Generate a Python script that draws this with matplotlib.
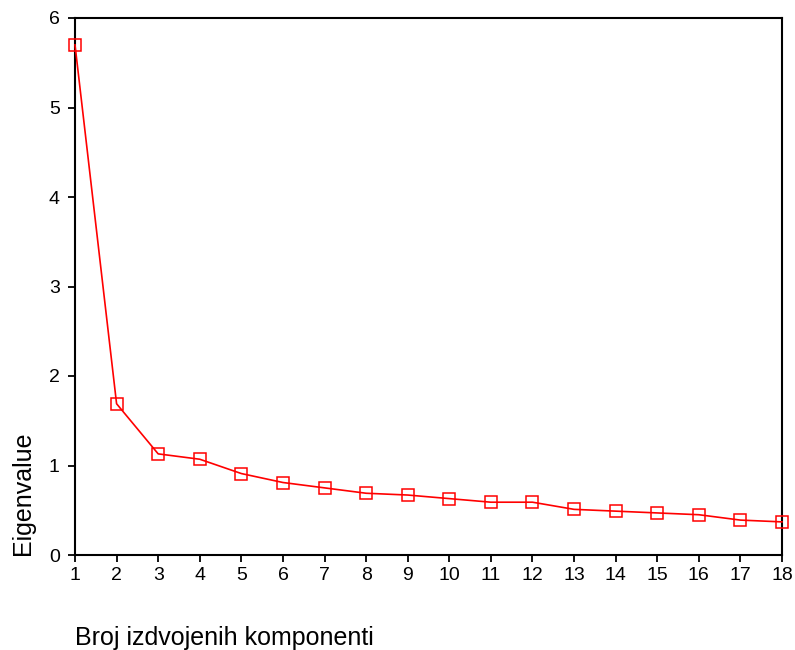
import matplotlib.pyplot as plt
import numpy as np

plt.rcParams['font.family'] = ['Liberation Sans', 'DejaVu Sans']

# scree plot data
components = np.arange(1, 19)
eigenvalues = [5.70, 1.69, 1.13, 1.07, 0.91, 0.81, 0.75, 0.69, 0.67,
               0.63, 0.59, 0.59, 0.51, 0.49, 0.47, 0.45, 0.39, 0.37]

fig = plt.figure(figsize=(7.95, 6.5), dpi=100)
ax = fig.add_axes([75/795, 1 - 555/650, (782 - 75)/795, (555 - 18)/650])

ax.plot(components, eigenvalues, '-', color='red', linewidth=1.2,
        marker='s', markersize=9, markerfacecolor='none',
        markeredgecolor='red', markeredgewidth=1.1, clip_on=False, zorder=3)

ax.set_xlim(1, 18)
ax.set_ylim(0, 6)
ax.set_xticks(components)
ax.set_yticks(range(0, 7))
ax.tick_params(direction='out', length=5, width=1.3, labelsize=14, pad=4)
ax.tick_params(axis='y', pad=6)
for s in ax.spines.values():
    s.set_linewidth(1.5)

ax.set_ylabel('Eigenvalue', fontsize=18, loc='bottom', labelpad=10)
ax.set_xlabel('Broj izdvojenih komponenti', fontsize=18, loc='left', labelpad=30)

fig.savefig('out.png', dpi=100)
